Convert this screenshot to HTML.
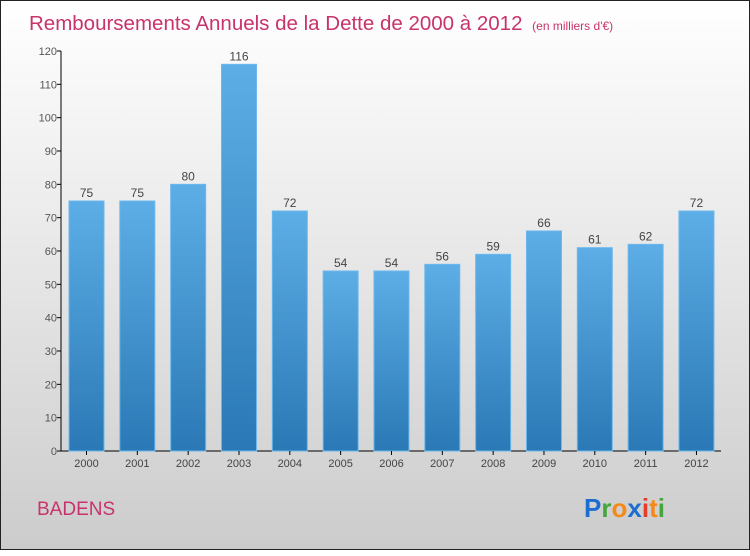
<!DOCTYPE html>
<html><head><meta charset="utf-8"><style>
body{margin:0;width:750px;height:550px;overflow:hidden;font-family:"Liberation Sans",sans-serif}
#frame{position:absolute;left:0;top:0;width:748px;height:548px;border:1px solid #222;background:linear-gradient(#ffffff,#f0f0f0 30%,#cccccc)}
</style></head><body>
<div id="frame">
<svg width="750" height="550" id="svg">
<defs><linearGradient id="bg" x1="0" y1="0" x2="0" y2="1"><stop offset="0" stop-color="#5dade6"/><stop offset="1" stop-color="#2a79b6"/></linearGradient></defs>
<text x="28" y="29" font-size="20.5" fill="#c8336b">Remboursements Annuels de la Dette de 2000 à 2012 <tspan font-size="12" dx="4">(en milliers d'€)</tspan></text>
<g id="plot"></g>
<text x="36" y="514" font-size="19" fill="#c8336b">BADENS</text>
<text x="583" y="516" font-size="26" font-weight="bold"><tspan fill="#1c6fd0">P</tspan><tspan fill="#44a63c">r</tspan><tspan fill="#f58a1a">o</tspan><tspan fill="#1c6fd0">x</tspan><tspan fill="#e43d2a">i</tspan><tspan fill="#f58a1a">t</tspan><tspan fill="#44a63c">i</tspan></text>
</svg></div>
<script>
const years=["2000","2001","2002","2003","2004","2005","2006","2007","2008","2009","2010","2011","2012"];
const values=[75,75,80,116,72,54,54,56,59,66,61,62,72];
const yTicks=[0,10,20,30,40,50,60,70,80,90,100,110,120];
const NS="http://www.w3.org/2000/svg";
const g=document.getElementById('plot');
const y0=450,yTop=50,yMax=120,x0=60,step=50.83,first=85.5,bw=35;
const Y=v=>y0-(v/yMax)*(y0-yTop);
const X=i=>first+i*step;
function mk(t,a){const e=document.createElementNS(NS,t);for(const k in a)e.setAttribute(k,a[k]);g.appendChild(e);return e;}
let ax=mk('line',{x1:x0,y1:yTop,x2:x0,y2:y0,stroke:'#000'});


let xa=mk('line',{x1:x0,y1:y0,x2:720,y2:y0,stroke:'#000'});


yTicks.forEach(v=>{
 mk('line',{x1:x0-4,y1:Y(v),x2:x0,y2:Y(v),stroke:'#000'});
 const t=mk('text',{x:x0-4,y:Y(v)+4,'text-anchor':'end','font-size':11,fill:'#555'});
 t.textContent=v;
 
 
});
values.forEach((v,i)=>{
 const r=mk('rect',{x:X(i)-bw/2,y:Y(v),width:bw,height:y0-Y(v),fill:'url(#bg)',stroke:'#6bb8ec','stroke-width':1});
 
 
 const l=mk('text',{x:X(i),y:Y(v)-4,'text-anchor':'middle','font-size':12,fill:'#444'});
 l.textContent=v;
 
 
 mk('line',{x1:X(i),y1:y0,x2:X(i),y2:y0+4,stroke:'#000'});
 const xt=mk('text',{x:X(i),y:y0+16,'text-anchor':'middle','font-size':11,fill:'#444'});
 xt.textContent=years[i];
 
 
});
</script>
</body></html>
